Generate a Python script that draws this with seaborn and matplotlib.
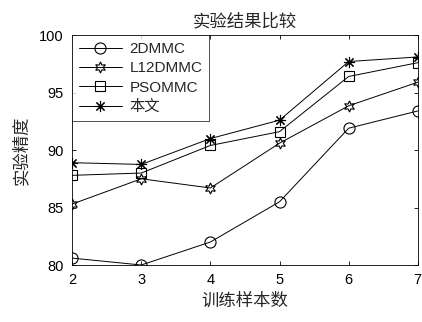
import numpy as np
import pandas as pd
import matplotlib
matplotlib.use('Agg')
import matplotlib.pyplot as plt
import seaborn as sns

# data
samples = [2, 3, 4, 5, 6, 7]
acc_2dmmc = [80.6, 80.0, 82.0, 85.5, 91.9, 93.4]
acc_l12dmmc = [85.3, 87.5, 86.7, 90.6, 93.85, 95.9]
acc_psommc = [87.8, 88.0, 90.4, 91.6, 96.4, 97.6]
acc_ours = [88.9, 88.75, 91.0, 92.6, 97.7, 98.1]
names = ['2DMMC', 'L12DMMC', 'PSOMMC', '本文']

sns.set_style('ticks')
plt.rcParams['font.family'] = ['Liberation Sans', 'Noto Sans CJK SC']
plt.rcParams['axes.linewidth'] = 0.6

fig = plt.figure(figsize=(4.22, 3.22), dpi=100)
ax = fig.add_axes([0.171, 0.177, 0.819, 0.714])

series = [acc_2dmmc, acc_l12dmmc, acc_psommc, acc_ours]
markers = ['o', (6, 1, 0), 's', (8, 2, 0)]
sizes = [8, 8, 6.5, 8]

for vals, name, mk, ms in zip(series, names, markers, sizes):
    sns.lineplot(x=samples, y=vals, ax=ax, color='black', lw=0.7,
                 marker=mk, markersize=ms, mfc='none', mec='black',
                 mew=0.8, label=name)

ax.set_xlim(2, 7)
ax.set_ylim(80, 100)
ax.set_xticks(samples)
ax.set_yticks([80, 85, 90, 95, 100])
ax.tick_params(direction='in', top=True, right=True, labelsize=10.5,
               length=3, width=0.6, colors='black', pad=6)
for s in ax.spines.values():
    s.set_visible(True)
    s.set_color('black')

ax.set_title('实验结果比较', fontsize=12.5, pad=6)
ax.set_xlabel('训练样本数', fontsize=12.5, labelpad=4)
ax.set_ylabel('实验精度', fontsize=12.5, labelpad=7)

leg = ax.legend(loc='upper left', fontsize=11, handlelength=2.8,
                frameon=True, fancybox=False, edgecolor='black',
                borderaxespad=0.0, borderpad=0.45, labelspacing=0.35,
                handletextpad=0.5)
leg.get_frame().set_linewidth(0.6)

fig.savefig('out.png', dpi=100)
